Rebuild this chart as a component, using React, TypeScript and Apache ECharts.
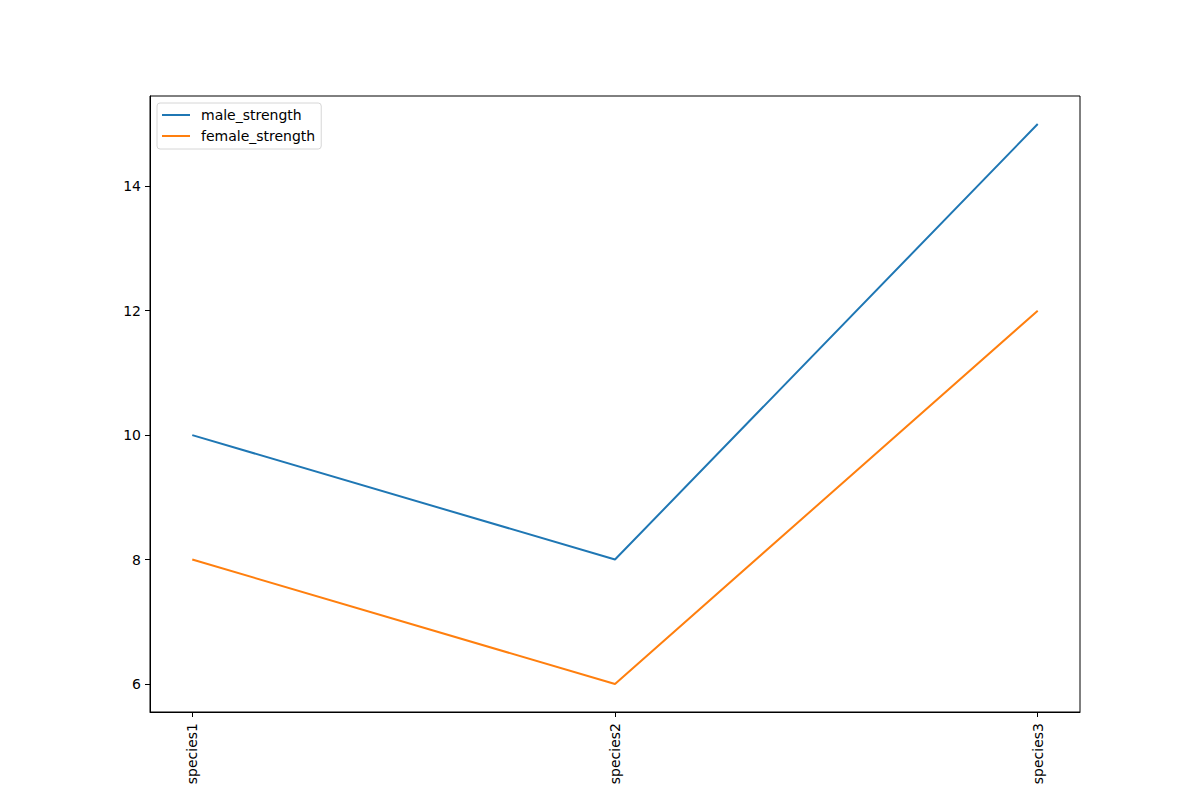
import React, { useEffect, useRef } from 'react';
import * as echarts from 'echarts';

const categories = ['species1', 'species2', 'species3'];
const maleStrength = [10, 8, 15];
const femaleStrength = [8, 6, 12];
const yTicks = [6, 8, 10, 12, 14];

const FONT = 'DejaVu Sans';

export default function App() {
  const chartRef = useRef<HTMLDivElement>(null);

  useEffect(() => {
    if (!chartRef.current) return;
    const chart = echarts.init(chartRef.current, undefined, { renderer: 'svg' });

    const toPoints = (vals: number[]) => vals.map((v, i) => [i, v]);

    const option: echarts.EChartsOption = {
      animation: false,
      backgroundColor: '#ffffff',
      textStyle: { fontFamily: FONT },
      grid: {
        left: 150,
        right: 120,
        top: 96,
        bottom: 88,
        show: true,
        borderColor: '#000000',
        borderWidth: 1,
        backgroundColor: 'transparent'
      },
      legend: {
        orient: 'vertical',
        left: 157,
        top: 103,
        padding: [5, 6, 6, 5],
        itemGap: 7,
        itemWidth: 28,
        itemHeight: 2,
        icon: 'rect',
        backgroundColor: '#ffffff',
        borderColor: '#d6d6d6',
        borderWidth: 1,
        borderRadius: 3,
        textStyle: { fontFamily: FONT, fontSize: 14, color: '#000', padding: [0, 0, 0, 6] },
        data: ['male_strength', 'female_strength']
      },
      xAxis: {
        type: 'value',
        min: -0.1,
        max: 2.1,
        splitLine: { show: false },
        axisLine: { show: true, onZero: false, lineStyle: { color: '#000', width: 1 } },
        axisTick: {
          show: true,
          length: 5,
          customValues: [0, 1, 2],
          lineStyle: { color: '#000' }
        },
        axisLabel: {
          customValues: [0, 1, 2],
          rotate: 90,
          fontFamily: FONT,
          fontSize: 14,
          color: '#000',
          margin: 11,
          formatter: (v: number) => categories[Math.round(v)] ?? ''
        }
      },
      yAxis: {
        type: 'value',
        min: 5.55,
        max: 15.45,
        splitLine: { show: false },
        axisLine: { show: true, onZero: false, lineStyle: { color: '#000', width: 1 } },
        axisTick: {
          show: true,
          length: 5,
          customValues: yTicks,
          lineStyle: { color: '#000' }
        },
        axisLabel: {
          customValues: yTicks,
          fontFamily: FONT,
          fontSize: 14,
          color: '#000',
          margin: 9
        }
      },
      series: [
        {
          name: 'male_strength',
          type: 'line',
          data: toPoints(maleStrength),
          showSymbol: false,
          symbol: 'none',
          lineStyle: { color: '#1f77b4', width: 2 },
          itemStyle: { color: '#1f77b4' }
        },
        {
          name: 'female_strength',
          type: 'line',
          data: toPoints(femaleStrength),
          showSymbol: false,
          symbol: 'none',
          lineStyle: { color: '#ff7f0e', width: 2 },
          itemStyle: { color: '#ff7f0e' }
        }
      ]
    };

    chart.setOption(option);

    return () => {
      chart.dispose();
    };
  }, []);

  return <div ref={chartRef} style={{ width: 1200, height: 800, margin: -8 }} />;
}
